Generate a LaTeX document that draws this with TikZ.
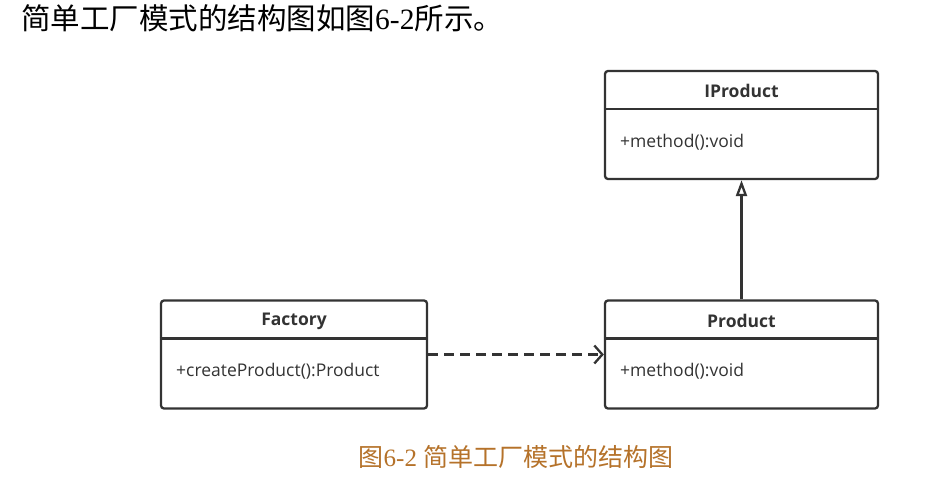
\documentclass[tikz,border=0pt]{standalone}
\usepackage{fontspec}
\setmainfont{Liberation Serif}
\newfontfamily\cjk{Noto Sans CJK SC}
\newfontfamily\umlfont{Open Sans}
\usetikzlibrary{arrows.meta}
\definecolor{umlgray}{HTML}{333333}
\definecolor{capbrown}{RGB}{181,114,42}
\tikzset{
  classbox/.style={draw=umlgray,line width=2.3pt,rounded corners=3pt,minimum width=273pt,minimum height=108pt,inner sep=0pt},
  classname/.style={font=\umlfont\bfseries\fontsize{17.5}{20}\selectfont,text=umlgray},
  member/.style={font=\umlfont\fontsize{17.5}{20}\selectfont,text=umlgray,anchor=west,inner sep=0pt},
  link/.style={draw=umlgray,line width=2.3pt}
}
\begin{document}
\begin{tikzpicture}[x=1pt,y=-1pt]
\useasboundingbox (0,0) rectangle (941,481);

\node[anchor=west,inner sep=0pt,font=\fontsize{29.5}{32}\selectfont] (intro) at (21,18)
  {{\cjk 简单工厂模式的结构图如图}6-2{\cjk 所示。}};

\node[classbox] (iproduct) at (741.5,125) {};
\node[classbox] (product) at (741.5,354.5) {};
\node[classbox,minimum width=266pt] (factory) at (294,354.5) {};

\draw[link] ([yshift=-39pt]iproduct.north west) -- ([yshift=-39pt]iproduct.north east);
\draw[link] ([yshift=-39pt]product.north west) -- ([yshift=-39pt]product.north east);
\draw[link] ([yshift=-39pt]factory.north west) -- ([yshift=-39pt]factory.north east);

\node[classname] (iproductname) at (741.5,91) {IProduct};
\node[classname] (productname) at (741.5,321) {Product};
\node[classname] (factoryname) at (294,321) {Factory};

\node[member] (iproductop) at (620,142) {+method():void};
\node[member] (productop) at (620,371) {+method():void};
\node[member] (factoryop) at (176,371) {+createProduct():Product};

\draw[link,dash pattern=on 10pt off 6pt,-{Straight Barb[length=8pt,width=18pt]}] (factory.east) -- (product.west);
\draw[link,-{Triangle[open,length=16pt,width=11pt]}] (product.north) -- (iproduct.south);

\node[text=capbrown,font=\fontsize{25}{28}\selectfont] (caption) at (516,457)
  {{\cjk 图}6-2 {\cjk 简单工厂模式的结构图}};
\end{tikzpicture}
\end{document}
